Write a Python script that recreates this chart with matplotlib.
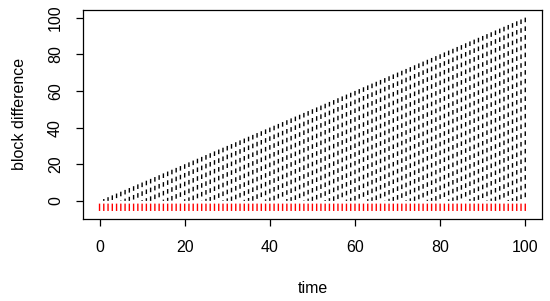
import matplotlib.pyplot as plt
from matplotlib.collections import LineCollection
import numpy as np

plt.rcParams['font.family'] = ['Liberation Sans', 'DejaVu Sans']

# time steps and block difference reached at each step
time = np.arange(0, 101)
block_diff = np.arange(0, 101)
# red marks under the zero line
red_lo = -5.5
red_hi = -1.5

fig = plt.figure(figsize=(5.5, 3.01), dpi=100)
ax = fig.add_axes([0.150, 0.273, 0.836, 0.694])

# dashed lines drawn from the top down, so the dash phase follows the top
segs = [[(t, d), (t, 0)] for t, d in zip(time, block_diff)]
ax.add_collection(LineCollection(segs, colors='black', linewidths=1.0,
                                 linestyles=(0, (3.3, 3.0)), snap=False))
ax.vlines(time, red_lo, red_hi, colors='red', linewidth=1.0, snap=False)

ax.set_xlim(-4, 104)
ax.set_ylim(-9.8, 104.2)
ax.set_xticks([0, 20, 40, 60, 80, 100])
ax.set_yticks([0, 20, 40, 60, 80, 100])
ax.tick_params(direction='out', length=5, width=0.9, labelsize=11.5)
ax.tick_params(axis='x', pad=10)
ax.tick_params(axis='y', pad=9)
for lab in ax.get_yticklabels():
    lab.set_rotation(90)
    lab.set_va('center')
for s in ax.spines.values():
    s.set_linewidth(0.9)

ax.set_xlabel('time', fontsize=11.5, labelpad=19)
ax.set_ylabel('block difference', fontsize=11.5, labelpad=15)

fig.savefig('out.png', dpi=100)
